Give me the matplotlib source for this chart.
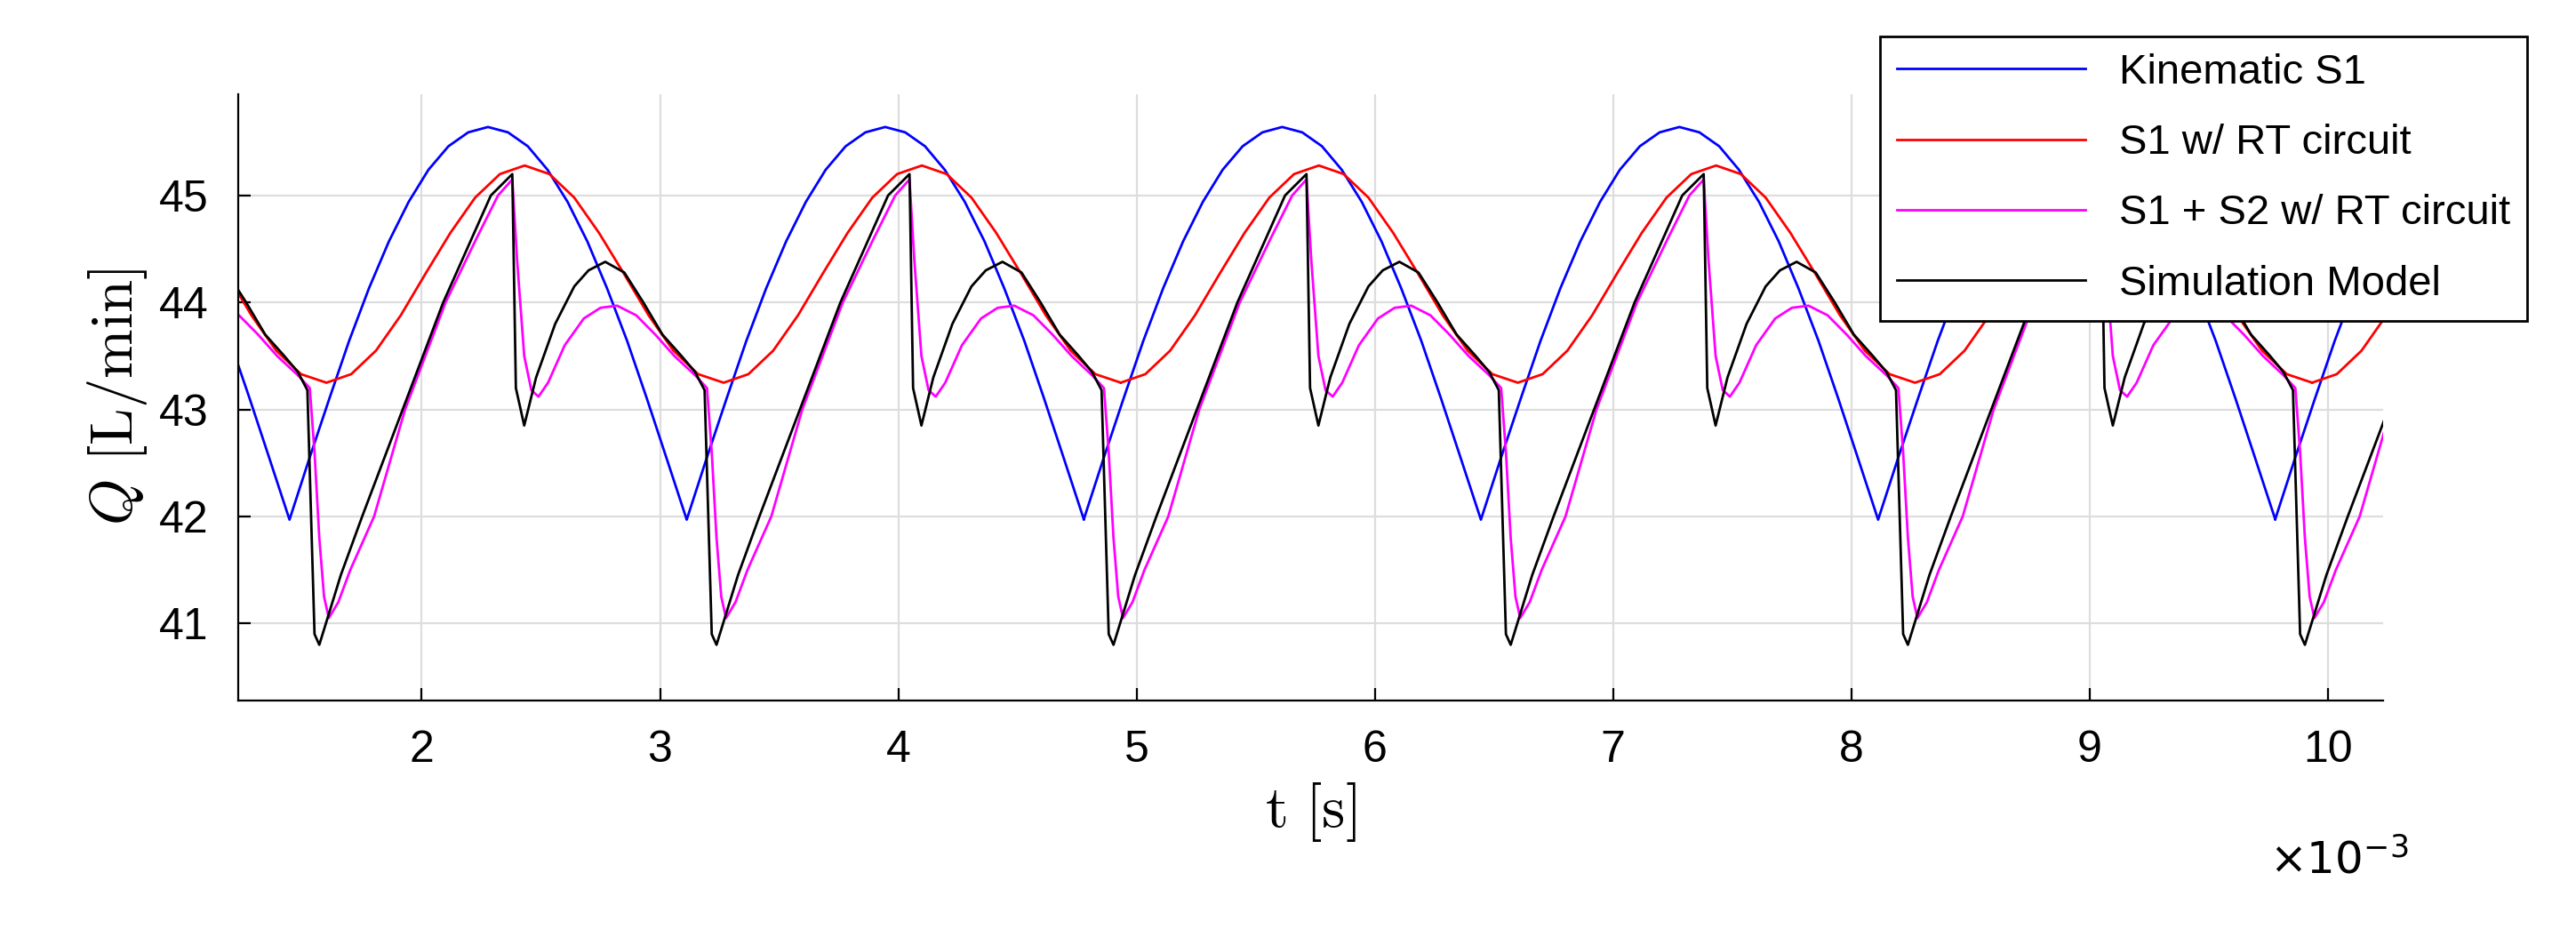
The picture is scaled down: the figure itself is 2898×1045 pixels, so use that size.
import numpy as np
import matplotlib
matplotlib.use("Agg")
import matplotlib.pyplot as plt

plt.rcParams['font.family'] = ['Liberation Sans', 'DejaVu Sans']
plt.rcParams['mathtext.fontset'] = 'cm'

# period start times (ms, x1e-3 s)
period_starts = [1.48 - 1.667, 1.48, 3.147, 4.813, 6.48, 8.147, 9.813]

# one period of each series, (offset in ms, value in L/min)
kin_off = [-0.035, 0.048, 0.132, 0.215, 0.298, 0.382, 0.465, 0.548, 0.632, 0.715, 0.798,
           0.882, 0.965, 1.048, 1.132, 1.215, 1.298, 1.382, 1.465, 1.548, 1.632]
kin_val = [41.97, 42.54, 43.10, 43.64, 44.13, 44.57, 44.94, 45.24, 45.46, 45.59, 45.64,
           45.59, 45.46, 45.24, 44.94, 44.57, 44.13, 43.64, 43.10, 42.54, 41.97]

rt_off = [0.12, 0.224, 0.328, 0.432, 0.536, 0.64, 0.744, 0.848, 0.952, 1.056, 1.16,
          1.264, 1.368, 1.472, 1.576, 1.68, 1.787]
rt_val = [43.25, 43.33, 43.55, 43.88, 44.27, 44.65, 44.98, 45.20, 45.28, 45.20, 44.98,
          44.65, 44.27, 43.88, 43.55, 43.33, 43.25]

mag_off = [0.0, 0.05, 0.07, 0.09, 0.11, 0.13, 0.17, 0.22, 0.32, 0.45, 0.62, 0.75, 0.84, 0.9,
           0.92, 0.95, 0.98, 1.01, 1.05, 1.12, 1.2, 1.27, 1.34, 1.42, 1.5, 1.58]
mag_val = [43.32, 43.2, 42.6, 41.8, 41.25, 41.05, 41.2, 41.5, 42.0, 43.0, 44.0, 44.6, 45.0, 45.15,
           44.4, 43.5, 43.18, 43.12, 43.25, 43.6, 43.85, 43.95, 43.97, 43.88, 43.7, 43.5]

sim_off = [0.0, 0.04, 0.07, 0.09, 0.18, 0.27, 0.44, 0.61, 0.72, 0.81, 0.9, 0.915, 0.95, 1.0,
           1.08, 1.16, 1.22, 1.29, 1.37, 1.45, 1.53, 1.61]
sim_val = [43.35, 43.18, 40.9, 40.8, 41.45, 42.0, 43.0, 44.0, 44.55, 45.0, 45.2, 43.2, 42.85, 43.3,
           43.8, 44.15, 44.3, 44.38, 44.28, 44.0, 43.7, 43.5]

labels = ["Kinematic S1", "S1 w/ RT circuit", "S1 + S2 w/ RT circuit", "Simulation Model"]
colors = ["#0000ff", "#ff0000", "#ff00ff", "#000000"]
x_ticks = [2, 3, 4, 5, 6, 7, 8, 9, 10]
y_ticks = [41, 42, 43, 44, 45]


def build(off, val):
    t, v = [], []
    for s in period_starts:
        t.extend([s + o for o in off])
        v.extend(val)
    return np.array(t), np.array(v)


fig = plt.figure(figsize=(14.49, 5.225), dpi=200)
ax = fig.add_axes([0.0925, 0.246, 0.8325, 0.653])
series = [(kin_off, kin_val), (rt_off, rt_val), (mag_off, mag_val), (sim_off, sim_val)]
for (o, v), lab, c in zip(series, labels, colors):
    t, y = build(o, v)
    ax.plot(t, y, color=c, lw=1.0, label=lab)

ax.set_xlim(1.23, 10.23)
ax.set_ylim(40.28, 45.95)
ax.set_xticks(x_ticks)
ax.set_yticks(y_ticks)
ax.tick_params(labelsize=18, direction="in", length=5, pad=12)
ax.grid(True, color="#dddddd", lw=0.8)
for sp in ["top", "right"]:
    ax.spines[sp].set_visible(False)
ax.set_xlabel(r"$\mathrm{t\ [s]}$", fontsize=24)
ax.set_ylabel(r"$Q\ \mathrm{[L/min]}$", fontsize=24)
fig.text(0.935, 0.06, r"$\times10^{-3}$", fontsize=18, ha="right",
         family=['Liberation Sans'], math_fontfamily='dejavusans')
leg = fig.legend(loc="upper right", bbox_to_anchor=(0.981, 0.961), fontsize=17,
                 fancybox=False, edgecolor="black", framealpha=1, borderaxespad=0,
                 handlelength=4.5, labelspacing=0.75)
leg.get_frame().set_linewidth(1.0)
fig.savefig("out.png", dpi=200)
